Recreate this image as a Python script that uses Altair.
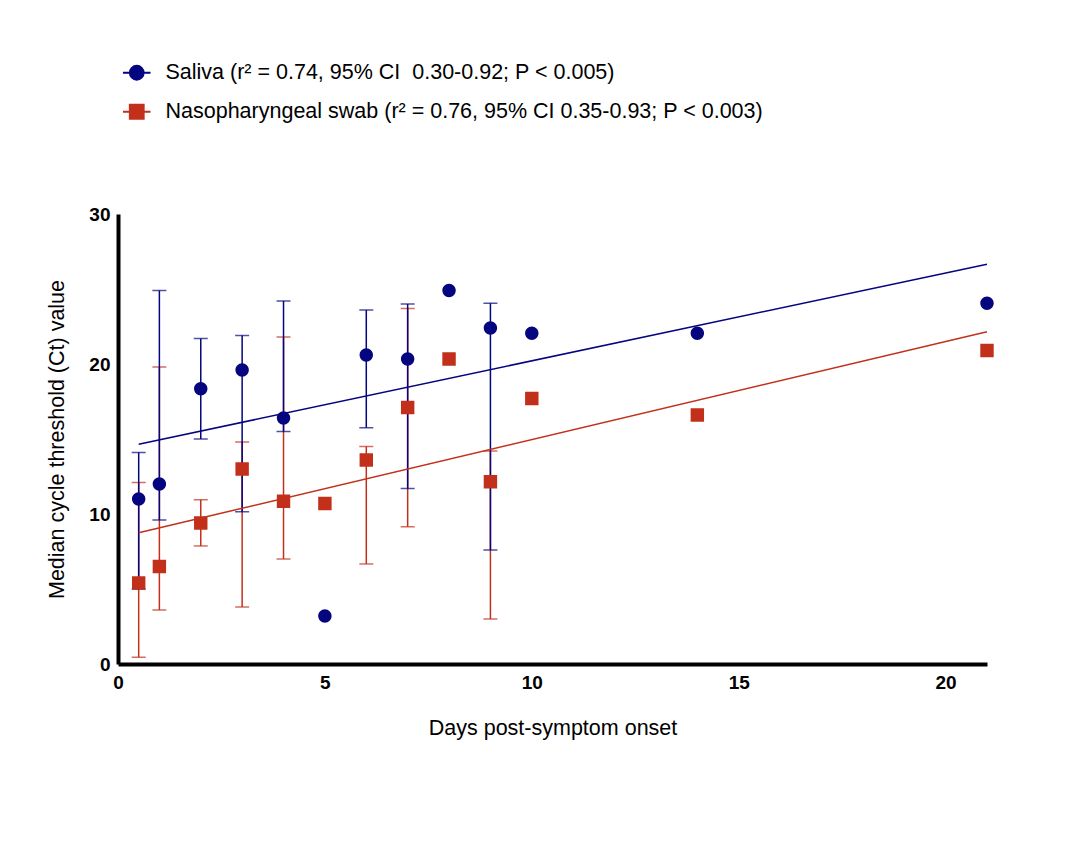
import altair as alt
import pandas as pd

# 측정일 (증상 발현 후 일수)
days = [0.5, 1, 2, 3, 4, 5, 6, 7, 8, 9, 10, 14, 21]

# 타액 중앙값 Ct 및 범위
saliva = [11.0, 12.0, 18.35, 19.6, 16.4, 3.2, 20.6, 20.33, 24.9, 22.4, 22.05, 22.05, 24.05]
saliva_lo = [5.0, 9.6, 15.0, 10.15, 15.5, None, 15.75, 11.7, None, 7.6, None, None, None]
saliva_hi = [14.1, 24.9, 21.7, 21.9, 24.2, None, 23.6, 24.0, None, 24.05, None, None, None]

# 비인두 도말 중앙값 Ct 및 범위
nasal = [5.4, 6.5, 9.4, 13.0, 10.85, 10.7, 13.6, 17.1, 20.33, 12.15, 17.7, 16.6, 20.9]
nasal_lo = [0.45, 3.6, 7.87, 3.8, 7.0, None, 6.67, 9.15, None, 3.0, None, None, None]
nasal_hi = [12.1, 19.8, 10.95, 14.8, 21.8, None, 14.5, 23.7, None, 14.2, None, None, None]

# 회귀선 (그림에서 읽은 양 끝값)
fit_days = [0.5, 21]
saliva_fit = [14.65, 26.65]
nasal_fit = [8.75, 22.15]

samples = ['Saliva', 'Nasopharyngeal swab']
legend_labels = [
    'Saliva (r² = 0.74, 95% CI \u00a00.30-0.92; P < 0.005)',
    'Nasopharyngeal swab (r² = 0.76, 95% CI 0.35-0.93; P < 0.003)',
]
colors = ['#05057f', '#c2301b']

# 범례에 선이 보이도록 선+기호 모양의 경로 사용 (점 자체는 stroke 0)
circle_path = 'M-2,0H2M1,0A1,1,0,1,1,-1,0A1,1,0,1,1,1,0Z'
square_path = 'M-2,0H2M-1,-1H1V1H-1Z'

rows = []
for name, med, lo, hi in [('Saliva', saliva, saliva_lo, saliva_hi),
                          ('Nasopharyngeal swab', nasal, nasal_lo, nasal_hi)]:
    for d, m, l, h in zip(days, med, lo, hi):
        rows.append({'sample': name, 'day': d, 'ct': m, 'lo': l, 'hi': h})
df = pd.DataFrame(rows)

fit_rows = []
for name, vals in [('Saliva', saliva_fit), ('Nasopharyngeal swab', nasal_fit)]:
    for d, v in zip(fit_days, vals):
        fit_rows.append({'sample': name, 'day': d, 'ct': v})
fit_df = pd.DataFrame(fit_rows)

label_expr = "datum.label == '%s' ? '%s' : '%s'" % (samples[0], legend_labels[0], legend_labels[1])

x_scale = alt.Scale(domain=[0, 21], nice=False, zero=True)
y_scale = alt.Scale(domain=[0, 30], nice=False)
color_scale = alt.Scale(domain=samples, range=colors)

x_enc = alt.X('day:Q', scale=x_scale, title='Days post-symptom onset',
              axis=alt.Axis(values=[0, 5, 10, 15, 20], labelFlush=False))
y_enc = alt.Y('ct:Q', scale=y_scale, title='Median cycle threshold (Ct) value',
              axis=alt.Axis(values=[0, 10, 20, 30], labelFlush=False))

err = df.dropna(subset=['lo'])
layers = []
# 빨간 오차막대 먼저, 파란 것이 위에
for name in ['Nasopharyngeal swab', 'Saliva']:
    col = colors[samples.index(name)]
    sub = err[err['sample'] == name]
    base = alt.Chart(sub)
    layers.append(base.mark_rule(color=col, strokeWidth=1.5).encode(
        x=alt.X('day:Q', scale=x_scale), y=alt.Y('lo:Q', scale=y_scale), y2='hi:Q'))
    layers.append(base.mark_tick(color=col, thickness=1.5, size=14, orient='horizontal').encode(
        x=alt.X('day:Q', scale=x_scale), y=alt.Y('lo:Q', scale=y_scale)))
    layers.append(base.mark_tick(color=col, thickness=1.5, size=14, orient='horizontal').encode(
        x=alt.X('day:Q', scale=x_scale), y=alt.Y('hi:Q', scale=y_scale)))

# 회귀선
for name in samples:
    col = colors[samples.index(name)]
    layers.append(alt.Chart(fit_df[fit_df['sample'] == name]).mark_line(
        color=col, strokeWidth=1.5).encode(x=x_enc, y=y_enc))

legend_opts = dict(
    title=None, orient='none', legendX=8, legendY=-152, direction='vertical',
    labelExpr=label_expr, labelFont='Liberation Sans', labelFontSize=21.5,
    labelColor='black', labelOffset=18, rowPadding=16, padding=0,
    symbolSize=190, symbolStrokeWidth=2, symbolOpacity=1, labelLimit=0
)

points = alt.Chart(df).mark_point(filled=True, opacity=1, size=180, strokeWidth=0).encode(
    x=x_enc, y=y_enc,
    color=alt.Color('sample:N', scale=color_scale, legend=alt.Legend(**legend_opts)),
    stroke=alt.Stroke('sample:N', scale=color_scale, legend=alt.Legend(**legend_opts)),
    shape=alt.Shape('sample:N', scale=alt.Scale(domain=samples, range=[circle_path, square_path]),
                    legend=alt.Legend(**legend_opts))
)
layers.append(points)

chart = alt.layer(*layers).properties(
    width=869, height=450,
    autosize=alt.AutoSizeParams(type='none'),
    padding={'left': 110, 'top': 206, 'right': 70, 'bottom': 130}
).configure_view(stroke=None).configure_axis(
    grid=False, ticks=False, domainColor='black', domainWidth=4,
    labelFont='Liberation Sans', labelFontWeight='bold', labelFontSize=19, labelColor='black',
    titleFont='Liberation Sans', titleFontWeight='normal', titleFontSize=21.5, titleColor='black'
).configure_axisX(labelPadding=9, titlePadding=25).configure_axisY(labelPadding=8, titlePadding=20)

chart.save('out.html', embed_options={'renderer': 'svg', 'actions': False})
